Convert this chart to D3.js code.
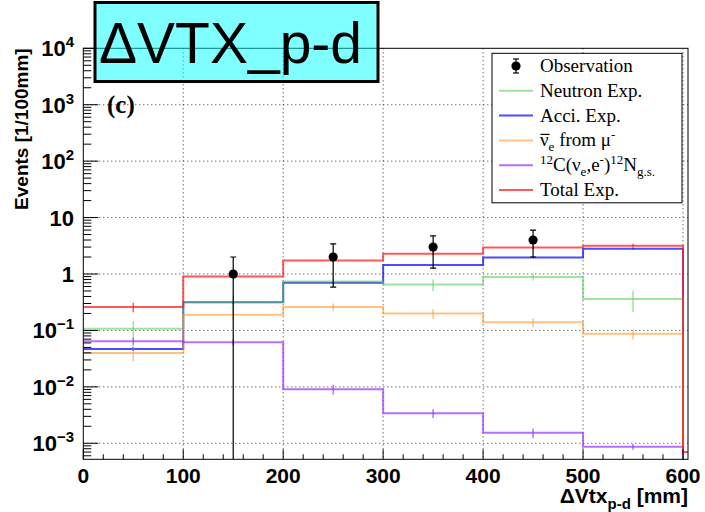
<!DOCTYPE html>
<html>
<head>
<meta charset="utf-8">
<script src="https://cdn.jsdelivr.net/npm/d3@7"></script>
<style>
  body { margin: 0; background: #fff; }
  svg { display: block; }
</style>
</head>
<body>
<script>
// bin edges and contents (last bin 600-700 is off-axis)
var binEdges = [0, 100, 200, 300, 400, 500, 600, 700];
var neutron  = [0.107, 0.32, 0.74, 0.65, 0.885, 0.36, 1e-6];
var acci     = [0.047, 0.315, 0.70, 1.44, 1.97, 2.81, 1e-6];
var nue      = [0.040, 0.19, 0.26, 0.20, 0.139, 0.087, 1e-6];
var c12      = [0.064, 0.062, 0.0091, 0.0034, 0.00153, 0.00087, 1e-6];
var total    = [0.26, 0.90, 1.74, 2.29, 2.96, 3.17, 0.0007];

var neutronErr = [0.04, 0.10, 0.12, 0.15, 0.12, 0.15];
var acciErr    = [0.004, 0.02, 0.03, 0.04, 0.05, 0.06];
var nueErr     = [0.012, 0.04, 0.04, 0.04, 0.025, 0.018];
var c12Err     = [0.01, 0.008, 0.0018, 0.0006, 0.0003, 0.0001];
var totalErr   = [0.05, 0.06, 0.12, 0.15, 0.2, 0.25];

// observed events
var obsX   = [150, 250, 350, 450];
var obsY   = [1, 2, 3, 4];
var obsErr = [1, 1.414, 1.732, 2];

var xTicks = [0, 100, 200, 300, 400, 500, 600];
var yTickExp = [-3, -2, -1, 0, 1, 2, 3, 4];

var legendLabels = ["Observation", "Neutron Exp.", "Acci. Exp.", "nue", "c12", "Total Exp."];

var w = 705, h = 512;
var padL = 83.3, padR = 688, padT = 48.3, padB = 459.3;

var x = d3.scaleLinear().domain([0, 605]).range([padL, padR]);
var y = d3.scaleLog().domain([5.2e-4, 1e4]).range([padB, padT]);

var svg = d3.select("body").append("svg")
    .attr("width", w).attr("height", h);

svg.append("defs").append("clipPath").attr("id", "clip")
   .append("rect").attr("x", padL).attr("y", padT)
   .attr("width", padR - padL).attr("height", padB - padT);

// grid
var grid = svg.append("g").attr("stroke", "#333").attr("stroke-width", 1)
    .attr("stroke-dasharray", "1,3");
xTicks.filter(function(d) { return d > 0; }).forEach(function(d) {
  grid.append("line").attr("x1", x(d)).attr("x2", x(d)).attr("y1", padT).attr("y2", padB);
});
yTickExp.filter(function(e) { return e < 4; }).forEach(function(e) {
  grid.append("line").attr("x1", padL).attr("x2", padR)
      .attr("y1", y(Math.pow(10, e))).attr("y2", y(Math.pow(10, e)));
});

var neutronS = {vals: neutron, err: neutronErr, color: "#4cd04c", op: 0.55};
var acciS    = {vals: acci,    err: acciErr,    color: "#1010ff", op: 0.75};
var nueS     = {vals: nue,     err: nueErr,     color: "#ff9a30", op: 0.6};
var c12S     = {vals: c12,     err: c12Err,     color: "#9a30ff", op: 0.7};
var totalS   = {vals: total,   err: totalErr,   color: "#ff2020", op: 0.75};

// draw order (green over blue gives the teal overlap), legend order
var drawOrder = [acciS, neutronS, nueS, c12S, totalS];
var legendSeries = [neutronS, acciS, nueS, c12S, totalS];

var plot = svg.append("g").attr("clip-path", "url(#clip)");

drawOrder.forEach(function(s) {
  var pts = [];
  for (var i = 0; i < s.vals.length; i++) {
    pts.push([x(binEdges[i]), y(s.vals[i])]);
    pts.push([x(binEdges[i + 1]), y(s.vals[i])]);
  }
  plot.append("path")
      .attr("d", d3.line()(pts))
      .attr("fill", "none")
      .attr("stroke", s.color)
      .attr("stroke-opacity", s.op)
      .attr("stroke-width", 2);
  s.err.forEach(function(e, i) {
    var cx = x((binEdges[i] + binEdges[i + 1]) / 2);
    var lo = Math.max(s.vals[i] - e, 1e-6);
    plot.append("line")
        .attr("x1", cx).attr("x2", cx)
        .attr("y1", y(s.vals[i] + e)).attr("y2", y(lo))
        .attr("stroke", s.color).attr("stroke-opacity", s.op)
        .attr("stroke-width", 1.5);
  });
});

// observation points
obsX.forEach(function(d, i) {
  var cx = x(d);
  var hi = obsY[i] + obsErr[i];
  var lo = Math.max(obsY[i] - obsErr[i], 1e-6);
  plot.append("line").attr("x1", cx).attr("x2", cx)
      .attr("y1", y(hi)).attr("y2", y(lo))
      .attr("stroke", "#000").attr("stroke-width", 1.2);
  plot.append("line").attr("x1", cx - 3).attr("x2", cx + 3)
      .attr("y1", y(hi)).attr("y2", y(hi))
      .attr("stroke", "#000").attr("stroke-width", 1.2);
  if (obsY[i] - obsErr[i] > 0) {
    plot.append("line").attr("x1", cx - 3).attr("x2", cx + 3)
        .attr("y1", y(lo)).attr("y2", y(lo))
        .attr("stroke", "#000").attr("stroke-width", 1.2);
  }
  plot.append("circle").attr("cx", cx).attr("cy", y(obsY[i])).attr("r", 4.6).attr("fill", "#000");
});

// frame
svg.append("rect").attr("x", padL).attr("y", padT)
   .attr("width", padR - padL).attr("height", padB - padT)
   .attr("fill", "none").attr("stroke", "#000").attr("stroke-width", 1);

// x ticks
var ticks = svg.append("g").attr("stroke", "#000").attr("stroke-width", 1);
d3.range(0, 601, 20).forEach(function(d) {
  var len = d % 100 === 0 ? 10 : 5;
  ticks.append("line").attr("x1", x(d)).attr("x2", x(d))
       .attr("y1", padB).attr("y2", padB - len);
});
// y ticks (log, major + minor)
yTickExp.forEach(function(e) {
  for (var k = 1; k <= 9; k++) {
    var v = k * Math.pow(10, e);
    if (v < y.domain()[0] || v > y.domain()[1]) continue;
    var len = k === 1 ? 15 : 8;
    ticks.append("line").attr("x1", padL).attr("x2", padL + len)
         .attr("y1", y(v)).attr("y2", y(v));
  }
});
for (var k = 6; k <= 9; k++) {
  ticks.append("line").attr("x1", padL).attr("x2", padL + 8)
       .attr("y1", y(k * 1e-4)).attr("y2", y(k * 1e-4));
}

var sans = "'Liberation Sans', Arial, Helvetica, sans-serif";
var serif = "'Liberation Serif', 'Times New Roman', serif";

// x tick labels
svg.append("g").selectAll("text").data(xTicks).enter().append("text")
   .attr("x", function(d) { return x(d); })
   .attr("y", 483)
   .attr("text-anchor", "middle")
   .attr("font-family", sans).attr("font-weight", "bold").attr("font-size", 21)
   .text(function(d) { return d; });

// y tick labels
var yl = svg.append("g");
yTickExp.forEach(function(e) {
  var t = yl.append("text")
      .attr("x", 74).attr("y", y(Math.pow(10, e)) + 8)
      .attr("text-anchor", "end")
      .attr("font-family", sans).attr("font-weight", "bold").attr("font-size", 22);
  if (e === 0) { t.text("1"); }
  else if (e === 1) { t.text("10"); }
  else {
    t.append("tspan").text("10");
    t.append("tspan").attr("dy", -9).attr("font-size", 15)
     .text(e < 0 ? "\u2212" + (-e) : e);
  }
});

// axis titles
svg.append("text")
   .attr("transform", "translate(28," + padT + ") rotate(-90)")
   .attr("text-anchor", "end")
   .attr("font-family", sans).attr("font-weight", "bold").attr("font-size", 19)
   .text("Events [1/100mm]");

var xt = svg.append("text")
   .attr("x", padR).attr("y", 503)
   .attr("text-anchor", "end")
   .attr("font-family", sans).attr("font-weight", "bold").attr("font-size", 21);
xt.append("tspan").text("\u0394Vtx");
xt.append("tspan").attr("dy", 6).attr("font-size", 15).text("p-d");
xt.append("tspan").attr("dy", -6).text(" [mm]");

// panel label
svg.append("text").attr("x", 107).attr("y", 113)
   .attr("font-family", serif).attr("font-weight", "bold").attr("font-size", 25)
   .text("(c)");

// legend
var lg = svg.append("g");
lg.append("rect").attr("x", 492).attr("y", 53.3).attr("width", 190).attr("height", 149.5)
  .attr("fill", "#fff").attr("stroke", "#000").attr("stroke-width", 1);
var rowY = function(i) { return 66 + i * 24.8; };
legendLabels.forEach(function(lab, i) {
  var yy = rowY(i);
  if (i === 0) {
    lg.append("line").attr("x1", 516).attr("x2", 516).attr("y1", yy - 7).attr("y2", yy + 7)
      .attr("stroke", "#000").attr("stroke-width", 1.2);
    lg.append("line").attr("x1", 513).attr("x2", 519).attr("y1", yy - 7).attr("y2", yy - 7)
      .attr("stroke", "#000").attr("stroke-width", 1.2);
    lg.append("line").attr("x1", 513).attr("x2", 519).attr("y1", yy + 7).attr("y2", yy + 7)
      .attr("stroke", "#000").attr("stroke-width", 1.2);
    lg.append("circle").attr("cx", 516).attr("cy", yy).attr("r", 4.6).attr("fill", "#000");
  } else {
    var s = legendSeries[i - 1];
    lg.append("line").attr("x1", 499).attr("x2", 533).attr("y1", yy).attr("y2", yy)
      .attr("stroke", s.color).attr("stroke-opacity", s.op).attr("stroke-width", 2);
  }
  var base = yy + 6;
  var t = lg.append("text").attr("x", 540).attr("y", base)
      .attr("font-family", serif).attr("font-size", 19);
  if (lab === "nue") {
    t.append("tspan").text("\u03bd");
    t.append("tspan").attr("dy", 5).attr("font-size", 13).text("e");
    t.append("tspan").attr("dy", -5).text(" from \u03bc");
    t.append("tspan").attr("dy", -7).attr("font-size", 13).text("-");
    // bar over the nu
    lg.append("line").attr("x1", 540.5).attr("x2", 549.5)
      .attr("y1", base - 12).attr("y2", base - 12)
      .attr("stroke", "#000").attr("stroke-width", 1.2);
  } else if (lab === "c12") {
    t.append("tspan").attr("dy", -7).attr("font-size", 13).text("12");
    t.append("tspan").attr("dy", 7).text("C(\u03bd");
    t.append("tspan").attr("dy", 5).attr("font-size", 13).text("e");
    t.append("tspan").attr("dy", -5).text(",e");
    t.append("tspan").attr("dy", -7).attr("font-size", 13).text("-");
    t.append("tspan").attr("dy", 7).text(")");
    t.append("tspan").attr("dy", -7).attr("font-size", 13).text("12");
    t.append("tspan").attr("dy", 7).text("N");
    t.append("tspan").attr("dy", 5).attr("font-size", 13).text("g.s.");
  } else {
    t.text(lab);
  }
});

// title box
svg.append("rect").attr("x", 95).attr("y", 2.5).attr("width", 283).attr("height", 79)
   .attr("fill", "#00ffff").attr("fill-opacity", 0.5)
   .attr("stroke", "#000").attr("stroke-width", 3);
svg.append("text").attr("x", 99).attr("y", 63)
   .attr("font-family", sans).attr("font-size", 57)
   .text("\u0394VTX_p-d");
</script>
</body>
</html>
